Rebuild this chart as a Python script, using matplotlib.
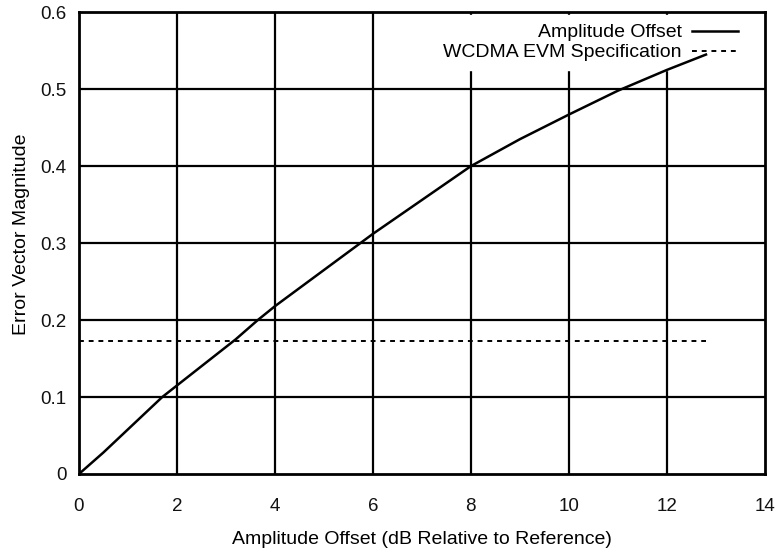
import matplotlib.pyplot as plt

plt.rcParams['font.family'] = ['Liberation Sans', 'DejaVu Sans']

# curve
offset_db = [0, 0.5, 1.0, 1.7, 2.0, 3.2, 3.65, 4.0, 5.0, 6.0, 7.0, 8.0, 9.0, 10.0, 11.0, 12.0, 12.8]
evm = [0, 0.028, 0.058, 0.1, 0.115, 0.175, 0.2, 0.218, 0.265, 0.312, 0.356, 0.4, 0.435, 0.467, 0.498, 0.525, 0.545]

spec_x = [0, 12.8]
spec_y = [0.173, 0.173]

x_ticks = [0, 2, 4, 6, 8, 10, 12, 14]
y_ticks = [0, 0.1, 0.2, 0.3, 0.4, 0.5, 0.6]
y_labels = ['0', '0.1', '0.2', '0.3', '0.4', '0.5', '0.6']

fig = plt.figure(figsize=(7.78, 5.56), dpi=100)
ax = fig.add_axes([0.1015, 0.1475, 0.8815, 0.8305])

ax.set_xlim(0, 14)
ax.set_ylim(0, 0.6)
ax.set_xticks(x_ticks)
ax.set_yticks(y_ticks)
ax.set_yticklabels(y_labels)
ax.tick_params(length=0, labelsize=13.5, colors='#111111')
ax.tick_params(axis='x', pad=17)
ax.tick_params(axis='y', pad=9)

# grid drawn by hand so the legend box can cover it
for xv in x_ticks[1:-1]:
    ax.axvline(xv, color='black', lw=1.6, zorder=1)
for yv in y_ticks[1:-1]:
    ax.axhline(yv, color='black', lw=1.6, zorder=1)

for s in ax.spines.values():
    s.set_linewidth(2.0)
    s.set_zorder(5)

ax.plot(offset_db, evm, color='black', lw=1.8, label='Amplitude Offset', zorder=4)
ax.plot(spec_x, spec_y, color='black', lw=1.4, ls=(0, (2.5, 2.5)),
        label='WCDMA EVM Specification', zorder=4)

leg = ax.legend(loc='upper right', bbox_to_anchor=(0.974, 0.994), markerfirst=False,
                frameon=True, fancybox=False, edgecolor='white', facecolor='white',
                framealpha=1, fontsize=14, handlelength=2.4, handletextpad=0.5,
                borderpad=0.45, labelspacing=0.12, borderaxespad=0)
leg.set_zorder(2)

ax.set_xlabel('Amplitude Offset (dB Relative to Reference)', fontsize=14, labelpad=12)
ax.set_ylabel('Error Vector Magnitude', fontsize=14)
ax.yaxis.set_label_coords(-0.071, 0.52)

fig.savefig('out.png', dpi=100)
